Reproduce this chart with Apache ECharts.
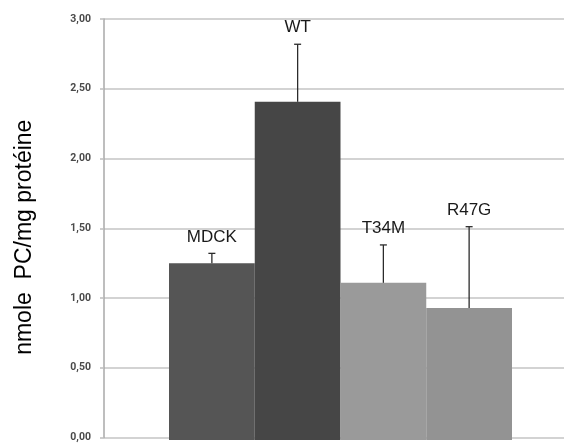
<!DOCTYPE html>
<html>
<head>
<meta charset="utf-8">
<script src="https://cdn.jsdelivr.net/npm/echarts@6/dist/echarts.min.js"></script>
<style>
html, body { margin: 0; padding: 0; background: #fff; }
#main { width: 564px; height: 443px; }
</style>
</head>
<body>
<div id="main"></div>
<script>
// données
var categories = ['MDCK', 'WT', 'T34M', 'R47G'];
var means = [1.26, 2.41, 1.12, 0.94];
var errTop = [1.33, 2.82, 1.39, 1.52];
var barColors = ['#555555', '#464646', '#9a9a9a', '#939393'];
var yMin = 0, yMax = 3, yStep = 0.5;

var barData = [];
var errData = [];
for (var i = 0; i < categories.length; i++) {
	barData.push({ value: means[i], itemStyle: { color: barColors[i] } });
	errData.push([i, means[i], errTop[i], categories[i]]);
}

function renderErr(params, api) {
	var base = api.coord([api.value(0), api.value(1)]);
	var top = api.coord([api.value(0), api.value(2)]);
	var lineStyle = { stroke: '#2b2b2b', lineWidth: 1.3 };
	return {
		type : 'group',
		children : [
			{ type: 'line', shape: { x1: base[0], y1: base[1], x2: top[0], y2: top[1] }, style: lineStyle },
			{ type: 'line', shape: { x1: top[0] - 3.5, y1: top[1], x2: top[0] + 3.5, y2: top[1] }, style: lineStyle },
			{
				type : 'text',
				x : top[0],
				y : top[1] - 8,
				style : {
					text : categories[params.dataIndex],
					fill : '#1a1a1a',
					font : '17px "Liberation Sans", Arial, sans-serif',
					align : 'center',
					verticalAlign : 'bottom'
				}
			}
		]
	};
}

var myChart = echarts.init(document.getElementById('main'), null, { renderer: 'canvas' });
var option = {
	animation : false,
	grid : [
		{ left: 104, top: 19, bottom: 3, right: -20 },
		{ left: 169, top: 19, bottom: 3, width: 343 }
	],
	xAxis : [
		{ gridIndex: 0, type: 'value', show: false, min: 0, max: 1 },
		{
			gridIndex : 1,
			type : 'category',
			data : categories,
			axisLine : { show: false },
			axisTick : { show: false },
			axisLabel : { show: false }
		}
	],
	yAxis : [
		{
			gridIndex : 0,
			type : 'value',
			min : yMin,
			max : yMax,
			interval : yStep,
			name : 'nmole  PC/mg protéine',
			nameLocation : 'middle',
			nameGap : 68,
			nameTextStyle : { fontFamily: 'Liberation Sans', fontSize: 23, color: '#000', padding: [0, 18, 0, 0] },
			axisLine : { show: true, lineStyle: { color: '#a8a8a8', width: 1.5 } },
			axisTick : { show: true, length: 4, lineStyle: { color: '#bdbdbd', width: 1.5 } },
			axisLabel : {
				margin : 13,
				fontFamily : 'Roboto',
				fontWeight : 'bold',
				fontSize : 10.5,
				color : '#4a4a4a',
				formatter : function(v) { return v.toFixed(2).replace('.', ','); }
			},
			splitLine : { show: true, lineStyle: { color: '#c4c4c4', width: 1.5 } }
		},
		{
			gridIndex : 1,
			type : 'value',
			min : yMin,
			max : yMax,
			show : false
		}
	],
	series : [
		{
			type : 'bar',
			xAxisIndex : 1,
			yAxisIndex : 1,
			barCategoryGap : 0,
			data : barData,
			z : 2
		},
		{
			type : 'custom',
			xAxisIndex : 1,
			yAxisIndex : 1,
			renderItem : renderErr,
			data : errData,
			z : 3
		}
	]
};
myChart.setOption(option);
</script>
</body>
</html>
